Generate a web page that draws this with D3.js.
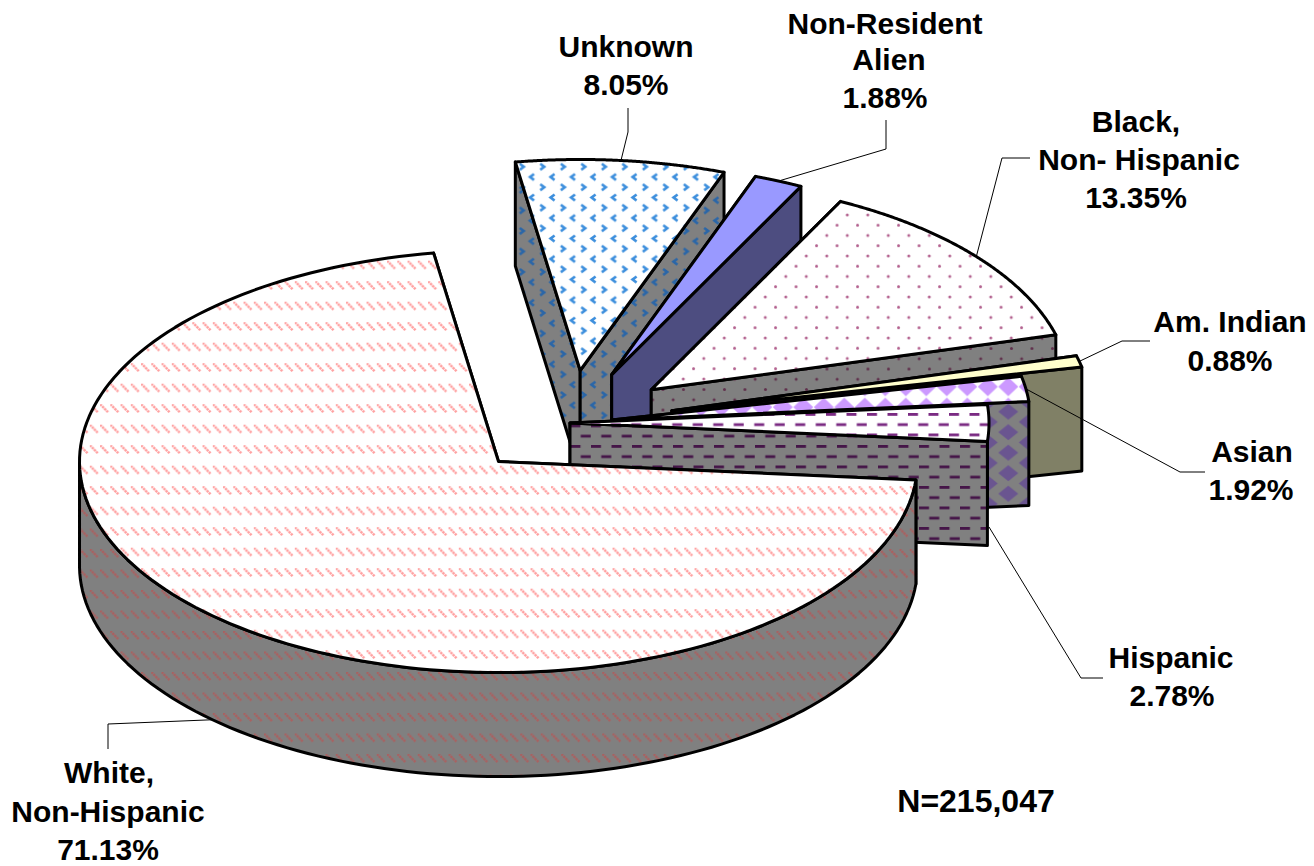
<!DOCTYPE html>
<html>
<head>
<meta charset="utf-8">
<script src="https://cdn.jsdelivr.net/npm/d3@7"></script>
<style>
  html, body { margin: 0; padding: 0; background: #fff; }
  text { font-family: "Liberation Sans", Arial, sans-serif; font-weight: bold; font-size: 30px; fill: #000; }
</style>
</head>
<body>
<svg id="chartSVG" width="1314" height="866"></svg>
<script>
// the chart values, clockwise from the big slice
const categories = ["White", "Unknown", "Non-Resident", "Black", "Am. Indian", "Asian", "Hispanic"];
const percents = [71.13, 8.05, 1.88, 13.35, 0.88, 1.92, 2.78];
const explodes = [0.25, 0.25, 0.25, 0.25, 0.25, 0.1, 0];
const labelLines = [
  ["White,", "Non-Hispanic", "71.13%"],
  ["Unknown", "8.05%"],
  ["Non-Resident", "Alien", "1.88%"],
  ["Black,", "Non- Hispanic", "13.35%"],
  ["Am. Indian", "0.88%"],
  ["Asian", "1.92%"],
  ["Hispanic", "2.78%"]
];
const totalNote = "N=215,047";

// layout of the pie
const centerX = 570, centerY = 423, radiusX = 419, radiusY = 211, depth = 104;
const startDeg = 95.0;
const tile = 20.5;
const wallGray = "#808080";

const x = d3.scaleLinear().domain([-1, 1]).range([centerX - radiusX, centerX + radiusX]);
const y = d3.scaleLinear().domain([-1, 1]).range([centerY + radiusY, centerY - radiusY]);

// label placement, one x and baseline per line, and leader elbows
const labelX = [
  [109, 108, 108],
  [626, 626],
  [885, 889, 885],
  [1136, 1139, 1136],
  [1230, 1230],
  [1252, 1251],
  [1171, 1172]
];
const labelY = [
  [783, 822, 860],
  [57, 95],
  [34, 70, 108],
  [132, 170, 208],
  [332, 371],
  [462, 500],
  [668, 706]
];
const elbows = [
  [[108, 724], [108, 749]],
  [[628, 132], [628, 108]],
  [[886, 149], [886, 120]],
  [[1002, 158], [1030, 158]],
  [[1122, 341], [1150, 341]],
  [[1180, 472], [1205, 472]],
  [[1081, 678], [1103, 678]]
];

// draw order is back to front, the big slice goes last
const drawOrder = [1, 2, 3, 4, 5, 6, 0];

const faceStyles = [
  { kind: "slash", bg: "#fff", fg: "#ffa0a0", ox: 7.8, oy: 14.7, w: tile / 2, h: tile },
  { kind: "chevron", bg: "#fff", fg: "#3d8fdd", ox: 6.3, oy: 19.3, w: tile, h: tile },
  { solid: "#9999ff" },
  { kind: "dot", bg: "#fff", fg: "#b3628f", ox: 4.8, oy: 8, w: tile, h: tile },
  { solid: "#ffffcc" },
  { kind: "diamond", single: true, dh: 9.5, bg: "#fff", fg: "#cc99ff", ox: 3.8, oy: 17.7, w: tile, h: tile },
  { kind: "dash", bg: "#fff", fg: "#7a2a82", ox: 6, oy: 3, w: tile, h: tile }
];
const wallStyles = [
  { kind: "slash", bg: wallGray, fg: "#aa6060", ox: 7.75, oy: 16, w: tile / 2, h: tile },
  { kind: "chevron", bg: wallGray, fg: "#2a66a8", ox: 6.2, oy: 1.5, w: tile, h: tile },
  { solid: "#4d4d80" },
  { kind: "dot", bg: wallGray, fg: "#60304c", ox: 15.2, oy: 8.3, w: tile, h: tile },
  { solid: "#808066" },
  { kind: "diamond", dh: 8, bg: wallGray, fg: "#6a5590", ox: 24.3, oy: 1.7, w: tile * 2, h: tile },
  { kind: "dash", bg: wallGray, fg: "#451548", ox: 17, oy: 14.5, w: tile, h: tile }
];

const chartSVG = d3.select("#chartSVG");
const defs = chartSVG.append("defs");

// one pattern tile, the two motifs sit half a tile apart
function addPattern(id, style) {
  const p = defs.append("pattern")
    .attr("id", id)
    .attr("patternUnits", "userSpaceOnUse")
    .attr("x", style.ox).attr("y", style.oy)
    .attr("width", style.w)
    .attr("height", style.h);
  p.append("rect").attr("width", style.w).attr("height", style.h).attr("fill", style.bg);
  const halfW = style.w / 2, halfH = style.h / 2;
  if (style.kind === "slash") {
    p.append("path").attr("d", "M0,0L8,8").attr("stroke", style.fg).attr("stroke-width", 2.4)
      .attr("stroke-dasharray", "2.4 0.6").attr("fill", "none");
  }
  [[0, 0], [halfW, halfH]].forEach((c, i) => {
    if (style.single && i === 1) return;
    const g = p.append("g").attr("transform", `translate(${c[0]},${c[1]})`);
    if (style.kind === "dot") {
      g.append("circle").attr("cx", 2).attr("cy", 2).attr("r", 1.5).attr("fill", style.fg);
    }
    if (style.kind === "dash") {
      g.append("rect").attr("width", 10).attr("height", 2.8).attr("fill", style.fg);
    }
    if (style.kind === "chevron") {
      const d = i === 0 ? "M1,1L5,4L1,7" : "M5,1L1,4L5,7";
      g.append("path").attr("d", d).attr("fill", "none").attr("stroke", style.fg).attr("stroke-width", 2.6);
    }
    if (style.kind === "diamond") {
      const diamond = (cx, cy) => `M${cx - 10},${cy}L${cx},${cy - style.dh}L${cx + 10},${cy}L${cx},${cy + style.dh}Z`;
      const at = i === 0
        ? [[0, 0], [style.w, 0], [0, style.h], [style.w, style.h]]
        : [[0, 0]];
      at.forEach(q => g.append("path").attr("d", diamond(q[0], q[1])).attr("fill", style.fg));
    }
  });
}

function paintFor(style, id) {
  if (style.solid) return style.solid;
  addPattern(id, style);
  return `url(#${id})`;
}

const startAngle = startDeg * Math.PI / 180;
const arcs = d3.pie().sort(null).startAngle(startAngle).endAngle(startAngle + 2 * Math.PI)(percents);

const line = d3.line().x(d => d[0]).y(d => d[1]);

// work out where every slice sits after it was pulled out
const slices = arcs.map((a, i) => {
  const mid = (a.startAngle + a.endAngle) / 2;
  const apexX = x(explodes[i] * Math.sin(mid)) - x(0);
  const apexY = y(explodes[i] * Math.cos(mid)) - y(0);
  const onRim = t => [x(Math.sin(t)) + apexX, y(Math.cos(t)) + apexY];
  const angles = d3.range(0, 161).map(k => a.startAngle + (a.endAngle - a.startAngle) * k / 160);
  return { i, mid, angles, apex: [centerX + apexX, centerY + apexY], onRim, rim: angles.map(onRim) };
});

const down = p => [p[0], p[1] + depth];

const pieGroup = chartSVG.append("g")
  .attr("stroke", "#000").attr("stroke-width", 3).attr("stroke-linejoin", "round");

drawOrder.forEach(i => {
  const s = slices[i];
  const wallPaint = paintFor(wallStyles[i], `wall${i}`);
  const facePaint = paintFor(faceStyles[i], `face${i}`);
  const first = s.rim[0], last = s.rim[s.rim.length - 1];
  const g = pieGroup.append("g").attr("class", categories[i]);

  // the back wall goes first, then the front one
  g.append("path").attr("d", line([s.apex, first, down(first), down(s.apex)]) + "Z").attr("fill", wallPaint);
  g.append("path").attr("d", line([s.apex, last, down(last), down(s.apex)]) + "Z").attr("fill", wallPaint);

  // the outer wall only shows on the front half of the ellipse
  const front = s.angles.filter(t => t >= Math.PI / 2 && t <= 3 * Math.PI / 2).map(s.onRim);
  if (front.length > 1) {
    g.append("path").attr("d", line(front.concat(front.slice().reverse().map(down))) + "Z").attr("fill", wallPaint);
  }
  g.append("path").attr("d", line([s.apex].concat(s.rim)) + "Z").attr("fill", facePaint);
});

// leader lines start on the middle of the slice, on the wall for the front ones
const leaderGroup = chartSVG.append("g").attr("fill", "none").attr("stroke", "#000").attr("stroke-width", 1);
slices.forEach(s => {
  const p = s.onRim(s.mid);
  const anchor = Math.cos(s.mid) < 0.05 ? down(p) : p;
  leaderGroup.append("path").attr("d", line([anchor].concat(elbows[s.i])));
});

const labelGroup = chartSVG.append("g").attr("text-anchor", "middle");
labelLines.forEach((lines, i) => {
  lines.forEach((txt, k) => {
    labelGroup.append("text").attr("x", labelX[i][k]).attr("y", labelY[i][k]).text(txt);
  });
});
chartSVG.append("text").attr("x", 976).attr("y", 812).attr("text-anchor", "middle")
  .style("font-size", "32px").text(totalNote);
</script>
</body>
</html>
